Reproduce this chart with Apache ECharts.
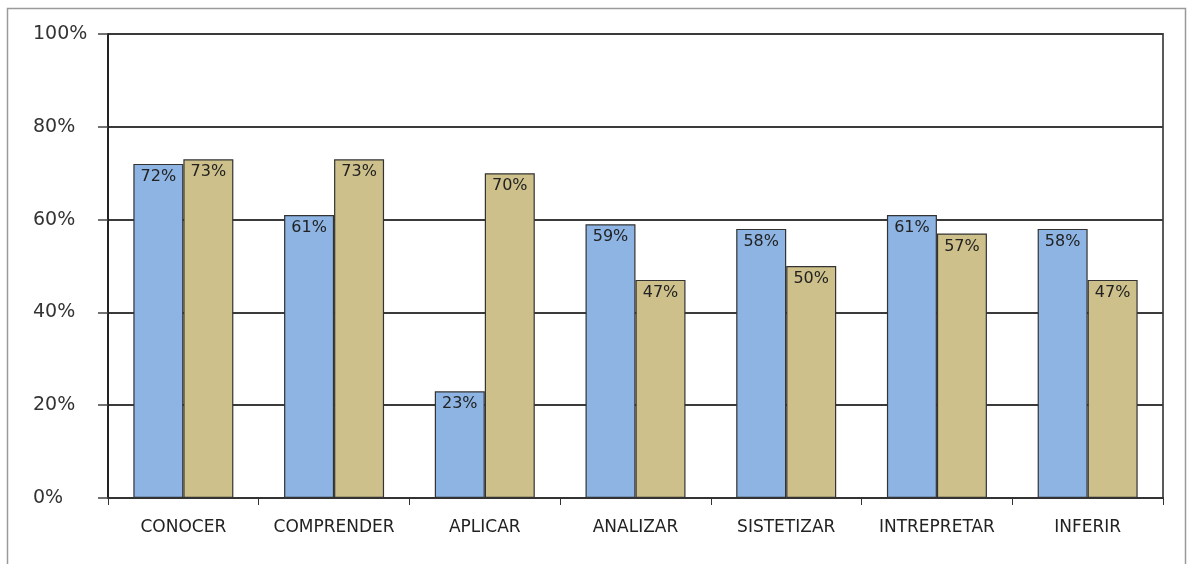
<!DOCTYPE html>
<html>
<head>
<meta charset="utf-8">
<script src="https://cdn.jsdelivr.net/npm/echarts@6/dist/echarts.min.js"></script>
<style>html,body{margin:0;padding:0;background:#fff}#c{width:1188px;height:564px}</style>
</head>
<body>
<div id="c"></div>
<script>
const categories = ['CONOCER','COMPRENDER','APLICAR','ANALIZAR','SISTETIZAR','INTREPRETAR','INFERIR'];
const seriesA = [72, 61, 23, 59, 58, 61, 58];
const seriesB = [73, 73, 70, 47, 50, 57, 47];
const yTicks = [0, 20, 40, 60, 80, 100];

const chart = echarts.init(document.getElementById('c'), null, {renderer: 'canvas'});
const font = 'DejaVu Sans, Verdana, sans-serif';
const label = {
  show: true, position: 'insideTop', distance: 5,
  formatter: p => p.value + '%', color: '#222', fontSize: 16, fontFamily: font
};
chart.setOption({
  animation: false,
  graphic: [{
    type: 'rect', shape: {x: 7.5, y: 8.5, width: 1178, height: 600},
    style: {fill: 'none', stroke: '#9a9a9a', lineWidth: 1.5}, silent: true, z: -1
  }],
  grid: {left: 108, right: 25, top: 34, bottom: 66, show: true, borderColor: '#5a5a5a', borderWidth: 2},
  xAxis: {
    type: 'category', data: categories,
    axisLine: {lineStyle: {color: '#333', width: 2}},
    axisTick: {show: true, interval: 0, length: 7, lineStyle: {color: '#333'}},
    axisLabel: {interval: 0, hideOverlap: false, color: '#222', fontSize: 17, fontFamily: font, margin: 21}
  },
  yAxis: {
    type: 'value', min: 0, max: 100, interval: 20,
    axisLine: {show: true, lineStyle: {color: '#111', width: 1.5}},
    axisTick: {show: true, length: 10, lineStyle: {color: '#444', width: 1.5}},
    axisLabel: {color: '#333', fontSize: 19, fontFamily: font, margin: 75, align: 'left',
      formatter: v => yTicks.includes(v) ? v + '%' : ''},
    splitLine: {show: true, lineStyle: {color: '#3a3a3a', width: 1.8}}
  },
  series: [
    {type: 'bar', data: seriesA, barWidth: 50, barGap: '0%',
     itemStyle: {color: '#8DB4E3', borderColor: '#333', borderWidth: 1.2}, label: label},
    {type: 'bar', data: seriesB, barWidth: 50, barGap: '0%',
     itemStyle: {color: '#CDC08A', borderColor: '#333', borderWidth: 1.2}, label: label}
  ]
});
</script>
</body>
</html>
